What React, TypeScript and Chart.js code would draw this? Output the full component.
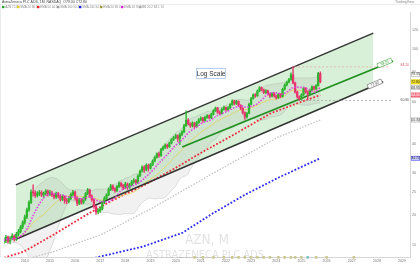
import React, { useEffect, useRef } from "react";
import { Chart, registerables } from "chart.js";
Chart.register(...registerables);

// month index: 0 = Jan 2013
const firstMonth = 2;
const closes = [
  15.6,16.1,15.5,15.9,16.3,15.8,16.6,17.0,17.8,18.6,
  19.6,21.0,22.6,25.0,24.8,24.2,24.6,24.9,24.3,24.7,25.2,24.5,
  24.8,24.3,23.8,24.6,24.0,23.3,23.9,23.0,22.8,23.5,24.4,25.0,
  23.6,22.4,23.1,22.6,23.4,24.6,25.5,24.0,23.2,21.7,20.6,20.8,
  21.2,22.6,23.5,24.3,25.6,26.5,25.8,25.3,26.4,27.2,26.6,26.0,
  27.0,26.2,26.8,27.6,28.0,27.4,29.2,30.6,31.8,31.0,32.4,31.5,
  32.6,33.8,35.0,36.2,35.6,37.8,38.6,39.4,38.8,40.2,41.6,42.4,
  43.2,42.0,43.6,44.8,47.6,50.2,48.4,47.5,48.8,47.2,49.0,50.4,
  51.2,50.0,51.6,52.4,51.4,53.2,55.0,56.4,54.2,53.6,55.8,56.8,
  55.6,56.6,58.4,60.6,59.0,60.2,58.0,56.4,54.0,51.8,53.6,58.6,
  62.0,64.2,63.6,66.6,68.8,67.4,65.6,66.8,64.8,63.4,65.0,63.6,
  62.4,64.6,63.2,67.8,70.6,72.6,74.4,78.0,72.0,66.0,63.0,61.6,
  64.2,68.4,66.0,64.6,67.2,69.4,68.0,70.2,79.0,72.8
];
const opens = [
  15.4,15.6,16.1,15.5,15.9,16.3,15.8,16.6,17.0,17.8,
  18.6,19.6,21.0,22.6,25.0,24.8,24.2,24.6,24.9,24.3,24.7,25.2,
  24.5,24.8,24.3,23.8,24.6,24.0,23.3,23.9,23.0,22.8,23.5,24.4,
  25.0,23.6,22.4,23.1,22.6,23.4,24.6,25.5,24.0,23.2,21.7,20.6,
  20.8,21.2,22.6,23.5,24.3,25.6,26.5,25.8,25.3,26.4,27.2,26.6,
  26.0,27.0,26.2,26.8,27.6,28.0,27.4,29.2,30.6,31.8,31.0,32.4,
  31.5,32.6,33.8,35.0,36.2,35.6,37.8,38.6,39.4,38.8,40.2,41.6,
  42.4,43.2,42.0,43.6,44.8,47.6,50.2,48.4,47.5,48.8,47.2,49.0,
  50.4,51.2,50.0,51.6,52.4,51.4,53.2,55.0,56.4,54.2,53.6,55.8,
  56.8,55.6,56.6,58.4,60.6,59.0,60.2,58.0,56.4,54.0,51.8,53.6,
  58.6,62.0,64.2,63.6,66.6,68.8,67.4,65.6,66.8,64.8,63.4,65.0,
  63.6,62.4,64.6,63.2,67.8,70.6,72.6,74.4,78.0,72.0,66.0,63.0,
  61.6,64.2,68.4,66.0,64.6,67.2,69.4,68.0,70.2,79.0
];
const highs = [
  16.0,16.4,16.3,16.2,16.7,16.5,16.9,17.4,18.1,18.9,
  20.0,21.4,23.0,25.5,26.8,25.3,25.1,25.4,25.3,25.0,25.6,25.5,
  25.4,25.2,24.6,25.0,24.9,24.2,24.3,24.1,23.5,23.9,24.8,25.4,
  25.2,23.9,23.5,23.4,23.8,24.9,25.9,25.7,24.3,23.4,21.9,21.3,
  21.6,22.9,23.9,24.6,26.0,26.9,26.8,26.1,26.7,27.6,27.5,26.9,
  27.5,27.3,27.2,28.0,28.5,28.3,29.6,31.0,32.2,32.3,32.9,32.8,
  33.0,34.2,35.4,36.6,36.8,38.2,39.1,39.9,39.8,40.6,42.0,42.9,
  43.8,43.6,44.3,45.4,48.2,55.0,51.0,49.0,49.4,49.2,49.6,51.0,
  51.8,51.6,52.2,53.0,52.9,53.8,55.6,57.0,56.9,55.0,56.4,57.5,
  57.2,57.3,59.0,61.2,61.0,60.9,60.6,58.4,56.8,54.4,54.2,59.2,
  62.6,64.9,65.0,67.3,69.6,69.4,67.9,67.5,67.2,65.2,65.7,65.6,
  64.1,65.2,65.0,68.5,71.4,73.4,75.3,79.5,84.2,72.6,66.6,63.6,
  64.9,69.2,68.9,66.6,67.9,70.1,69.9,70.9,79.8,80.2
];
const lows = [
  15.1,15.3,15.2,15.1,15.7,15.5,15.6,16.3,16.8,17.5,
  18.3,19.3,20.7,22.3,24.0,23.7,23.8,24.1,23.9,23.6,24.3,24.0,
  24.1,23.9,23.4,23.5,23.6,22.9,23.0,22.4,22.3,22.5,23.2,24.0,
  23.1,21.9,22.1,22.2,22.3,23.0,24.3,23.7,22.8,21.3,20.1,20.2,
  20.5,21.0,22.3,23.2,24.1,25.3,25.4,24.9,25.1,26.1,26.2,25.6,
  25.8,25.6,25.9,26.5,27.2,27.0,27.2,29.0,30.3,30.2,30.7,30.6,
  31.2,32.3,33.5,34.7,35.0,35.3,37.4,38.1,38.2,38.5,39.9,41.2,
  42.0,40.8,39.6,43.1,44.4,47.2,47.9,46.8,47.0,46.5,46.9,48.6,
  49.9,49.2,49.6,51.1,50.8,51.0,52.8,54.6,53.6,52.9,53.2,55.3,
  54.8,55.0,56.2,58.0,58.2,58.4,57.3,55.6,53.2,50.6,51.2,53.3,
  58.2,61.6,62.6,63.2,66.1,66.7,64.9,65.1,64.0,62.5,62.9,62.8,
  61.6,61.9,62.4,62.8,67.2,70.0,72.0,73.8,71.4,65.2,62.2,60.8,
  61.1,63.8,65.2,61.4,64.1,66.8,67.2,67.6,69.8,72.0
];

const yearLabels = [2014,2015,2016,2017,2018,2019,2020,2021,2022,2023,2024,2025,2026,2027,2028,2029];
const priceTicks = [15,20,25,30,40,50,60,80,100,120];

// [month index, value]
const redMA = [[2.1,13.2],[11.5,14.0],[25.7,16.5],[41.3,20.0],[54,23.1],[68.2,26.5],[82.4,31.0],[96.6,36.8],[110.7,43.1],[129.6,53.8],[143.8,59.9],[153,64.1]];
const greyMA = [[2.1,12.3],[25.7,14.0],[49.3,16.65],[72.9,21.4],[101.3,29.8],[132.9,42.6],[153,50.3]];
const blueMA = [[45.5,13.2],[68.2,14.7],[87.1,16.8],[101.3,20.2],[116.9,24.3],[132.9,28.7],[153,34.7]];
const channelUpper = [[7.75,26.8],[178.3,117.0]];
const channelLower = [[7.75,15.8],[178.3,69.3]];
const channelLowerLine = [[7.75,15.8],[183,72.9]];
const trendLine = [[87.1,38.7],[187.7,89.2]];
const peakLine = [[140.5,84.2],[186,84.2]];
const lowLine = [[143.8,60.8],[187.5,60.8]];
const eventMonths = [93,97,102,107,111,114,117,120,123,126,129,133,136,139,141,144,147,151,156,169];
const specialEvent = 147;

const watermarkTitle = "AZN, M";
const watermarkName = "ASTRAZENECA PLC ADS";
const headerTitle = "AstraZeneca PLC ADS, 1M, NASDAQ  O79.00 C72.80";
const legendItems = [
  ["#2aa52a", "AZN 72.80"],
  ["#e6cf1a", "SMA 20 68.1"],
  ["#ee2222", "EMA 50 64.1"],
  ["#9a9a9a", "SMA 100 50.3"],
  ["#2222ee", "SMA 200 34.7"],
  ["#9c9c33", "EMA 20 69.0"],
  ["#dd22dd", "EMA 10 70.6"],
  ["#aaaaaa", "BB 20 2 68.1 74"],
];
const legendX = [2, 17, 37, 57, 79, 100, 121, 139];

function sma(src: number[], n: number) {
  return src.map((_, i) => {
    const s = src.slice(Math.max(0, i - n + 1), i + 1);
    return s.reduce((a, b) => a + b, 0) / s.length;
  });
}
function sdev(src: number[], n: number) {
  return src.map((_, i) => {
    const s = src.slice(Math.max(0, i - n + 1), i + 1);
    const m = s.reduce((a, b) => a + b, 0) / s.length;
    return Math.sqrt(s.reduce((a, b) => a + (b - m) * (b - m), 0) / s.length);
  });
}
const pts = (arr: number[][]) => arr.map(([x, y]) => ({ x, y }));

export default function App() {
  const ref = useRef<HTMLCanvasElement>(null);
  useEffect(() => {
    document.body.style.margin = "0";
    const months = closes.map((_, i) => firstMonth + i);
    const up = "#2db52d";
    const dn = "#e8336d";
    const colors = closes.map((c, i) => (c >= opens[i] ? up : dn));
    const bodies = closes.map((c, i) => ({ x: months[i], y: [Math.min(opens[i], c), Math.max(opens[i], c)] }));
    const wicks = closes.map((c, i) => ({ x: months[i], y: [lows[i], highs[i]] }));
    const ma10 = sma(closes, 10);
    const ma20 = sma(closes, 20);
    const sd20 = sdev(closes, 20);
    const bbU = ma20.map((m, i) => ({ x: months[i], y: m + 2 * sd20[i] }));
    const bbL = ma20.map((m, i) => ({ x: months[i], y: m - 2 * sd20[i] }));
    const last = closes.length - 1;

    const line = (data: any[], color: string, width: number, dash: number[], order: number, extra: any = {}) => ({
      type: "line", data, borderColor: color, borderWidth: width, borderDash: dash,
      pointRadius: 0, fill: false, order, tension: 0, ...extra,
    });

    const axisBoxes = [
      { v: bbU[last].y, bg: "#ffffff", fg: "#444", bd: "#999" },
      { v: ma20[last], bg: "#eeeeee", fg: "#444", bd: "#aaa" },
      { v: closes[last], bg: "#f2e21c", fg: "#333", bd: "#d8c800" },
      { v: redMA[redMA.length - 1][1], bg: "#f47a8a", fg: "#fff", bd: "#e05060" },
      { v: greyMA[greyMA.length - 1][1], bg: "#f4f4f4", fg: "#555", bd: "#999" },
      { v: blueMA[blueMA.length - 1][1], bg: "#c5c8ff", fg: "#333", bd: "#4a4aee" },
    ];

    const overlay = {
      id: "overlay",
      beforeDatasetsDraw(chart: any) {
        const ctx = chart.ctx;
        ctx.save();
        ctx.fillStyle = "rgba(110,110,110,0.2)";
        ctx.textBaseline = "alphabetic";
        ctx.font = '13.5px "Liberation Sans Narrow", "DejaVu Sans Condensed", Arial, sans-serif';
        ctx.fillText(watermarkTitle, 185, 244);
        ctx.font = '11px "Liberation Sans Narrow", "DejaVu Sans Condensed", Arial, sans-serif';
        ctx.fillText(watermarkName, 146, 258);
        ctx.restore();
      },
      afterDraw(chart: any) {
        const ctx = chart.ctx;
        const ys = chart.scales.y;
        const xs = chart.scales.x;
        ctx.save();
        // header
        ctx.fillStyle = "#e6e6e6";
        ctx.fillRect(0, 4, 420, 0.7);
        ctx.fillRect(0, 4, 0.8, 253);
        ctx.font = '3.5px "Liberation Sans", Arial, sans-serif';
        ctx.textBaseline = "middle";
        ctx.fillStyle = "#444";
        ctx.fillText(headerTitle, 2, 2.2);
        ctx.fillStyle = "#888";
        ctx.fillText("TradingView", 395, 2.2);
        ctx.font = '3px "Liberation Sans", Arial, sans-serif';
        legendItems.forEach(([c, t], i) => {
          const lx = legendX[i];
          ctx.fillStyle = c;
          ctx.fillRect(lx, 5.8, 2.4, 2.4);
          ctx.fillStyle = "#888";
          ctx.fillText(t, lx + 3.2, 7.1);
        });
        // log scale box
        ctx.fillStyle = "#fff";
        ctx.strokeStyle = "#a9c6e8";
        ctx.lineWidth = 0.8;
        ctx.fillRect(196, 68, 30, 11);
        ctx.strokeRect(196.5, 68.5, 29, 10);
        ctx.fillStyle = "#333";
        ctx.font = '6.5px "Liberation Sans", Arial, sans-serif';
        ctx.textAlign = "center";
        ctx.fillText("Log Scale", 211, 73.8);
        // axis value boxes
        ctx.font = '3.4px "Liberation Sans", Arial, sans-serif';
        axisBoxes.forEach((b) => {
          const y = ys.getPixelForValue(b.v);
          ctx.fillStyle = b.bg;
          ctx.fillRect(411, y - 2.3, 9, 4.6);
          ctx.strokeStyle = b.bd;
          ctx.lineWidth = 0.5;
          ctx.strokeRect(411.25, y - 2.05, 8.5, 4.1);
          ctx.fillStyle = b.fg;
          ctx.fillText(b.v.toFixed(2), 415.5, y + 0.2);
        });
        // horizontal line labels
        ctx.textAlign = "right";
        ctx.fillStyle = "#e05a6a";
        ctx.fillText(peakLine[0][1].toFixed(2), 409, ys.getPixelForValue(peakLine[0][1]) - 2);
        ctx.fillStyle = "#555";
        ctx.fillText(lowLine[0][1].toFixed(2), 409, ys.getPixelForValue(lowLine[0][1]) - 0.5);
        // tilted end labels
        const tilt = (seg: number[][], color: string) => {
          const x1 = xs.getPixelForValue(seg[0][0]), y1 = ys.getPixelForValue(seg[0][1]);
          const x2 = xs.getPixelForValue(seg[1][0]), y2 = ys.getPixelForValue(seg[1][1]);
          const a = Math.atan2(y2 - y1, x2 - x1);
          ctx.save();
          ctx.translate(x2, y2);
          ctx.rotate(a);
          ctx.fillStyle = "#fff";
          ctx.fillRect(-16, -3.5, 15, 4.5);
          ctx.strokeStyle = color;
          ctx.lineWidth = 0.5;
          ctx.strokeRect(-16, -3.5, 15, 4.5);
          ctx.fillStyle = color;
          ctx.textAlign = "center";
          ctx.fillText(seg[1][1].toFixed(2), -8.5, -1.2);
          ctx.restore();
        };
        tilt(trendLine, "#2a9a2a");
        tilt(channelLowerLine, "#555");
        ctx.restore();
      },
    };

    const chart = new Chart(ref.current as HTMLCanvasElement, {
      type: "bar",
      data: {
        datasets: [
          line(pts(channelUpper), "rgba(0,0,0,0)", 0, [], 100, { fill: "+1", backgroundColor: "rgba(110,200,110,0.27)" }),
          line(pts(channelLower), "rgba(0,0,0,0)", 0, [], 99),
          line(bbU, "rgba(150,150,150,0.55)", 0.5, [], 90, { fill: "+1", backgroundColor: "rgba(150,150,150,0.13)" }),
          line(bbL, "rgba(150,150,150,0.55)", 0.5, [], 89),
          line(pts(greyMA), "#c4c4c4", 1.3, [1.5, 1.5], 80),
          line(pts(blueMA), "#2a2af0", 1.8, [1.8, 1.8], 79),
          line(pts(redMA), "#f0283c", 1.8, [1.8, 1.8], 78),
          line(ma20.map((y, i) => ({ x: months[i], y })), "#e6d04a", 0.7, [], 70),
          line(pts(channelUpper), "#333", 1.4, [], 60),
          line(pts(channelLowerLine), "#333", 1.4, [], 60),
          line(pts(trendLine), "#1f8f1f", 1.8, [], 55),
          line(pts(peakLine), "#f0a0a8", 0.7, [2, 2], 50),
          line(pts(lowLine), "#999", 0.7, [2, 2], 50),
          { type: "bar", data: wicks, backgroundColor: colors, barThickness: 0.7, grouped: false, order: 20, borderWidth: 0 },
          { type: "bar", data: bodies, backgroundColor: colors, barThickness: 1.6, grouped: false, order: 19, borderWidth: 0, minBarLength: 1 },
          line(ma10.map((y, i) => ({ x: months[i], y })), "#e040e0", 1.6, [1.5, 1.5], 10),
          {
            type: "line", showLine: false, order: 5, clip: false,
            data: eventMonths.map((m) => ({ x: m, y: 13.25 })),
            pointStyle: "rectRounded", pointRadius: 1.6, pointBorderWidth: 0,
            pointBackgroundColor: eventMonths.map((m) => (m === specialEvent ? "#7fc4c8" : "#c8c890")),
          },
        ] as any,
      },
      options: {
        animation: false,
        responsive: false,
        devicePixelRatio: 1,
        layout: { padding: { top: 12, left: 0, right: 0, bottom: 0 } },
        plugins: { legend: { display: false }, tooltip: { enabled: false } },
        events: [],
        scales: {
          x: {
            type: "linear", min: 2.1, max: 195.8, offset: false,
            grid: { display: false, drawTicks: false },
            border: { display: true, color: "#d6d6d6" },
            ticks: { font: { size: 3.6 }, color: "#777", maxRotation: 0, autoSkip: false, padding: 2,
              callback: (v: any) => String(2013 + Math.round(Number(v) / 12)) },
            afterBuildTicks: (s: any) => { s.ticks = yearLabels.map((y) => ({ value: (y - 2013) * 12 })); },
            afterFit: (s: any) => { s.height = 8; },
          },
          y: {
            type: "logarithmic", position: "right", min: 13.3, max: 143.5,
            grid: { display: false, drawTicks: false },
            border: { display: true, color: "#d6d6d6" },
            ticks: { font: { size: 3.6 }, color: "#777", padding: 2, autoSkip: false,
              callback: (v: any) => String(v) },
            afterBuildTicks: (s: any) => { s.ticks = priceTicks.map((v) => ({ value: v })); },
            afterFit: (s: any) => { s.width = 10; },
          },
        },
      } as any,
      plugins: [overlay as any],
    });
    return () => chart.destroy();
  }, []);
  return (
    <div style={{ position: "absolute", left: 0, top: 0, width: 420, height: 265, background: "#fff" }}>
      <canvas ref={ref} width={420} height={265} style={{ display: "block" }} />
    </div>
  );
}
